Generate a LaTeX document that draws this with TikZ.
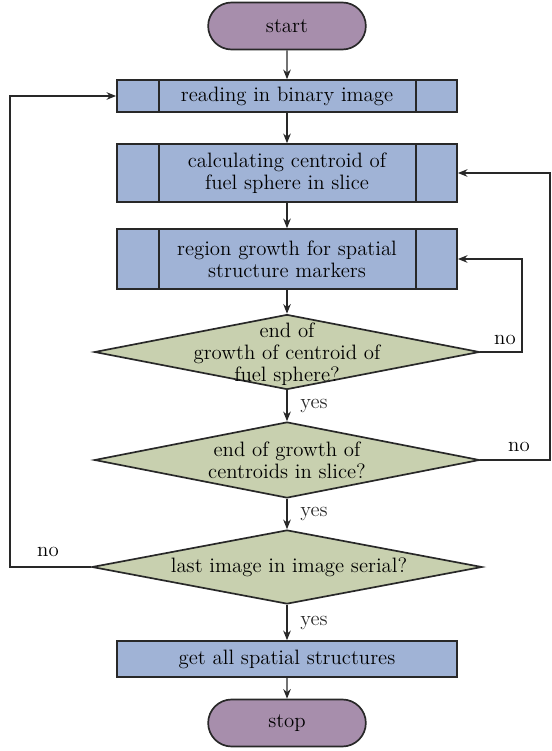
\documentclass[tikz,border=0pt]{standalone}
\usepackage{xcolor}
\usepackage{tikz}
\usetikzlibrary{shapes.geometric, shapes.misc, arrows.meta, calc}
\definecolor{boxblue}{RGB}{160,179,214}
\definecolor{decgreen}{RGB}{200,208,175}
\definecolor{termpurple}{RGB}{167,142,172}
\definecolor{mydark}{RGB}{40,40,40}
\tikzset{
  flowfont/.style={font=\fontsize{14.8pt}{15.8pt}\selectfont},
  terminal/.style={rounded rectangle, draw=mydark, fill=termpurple,
    minimum width=4.175cm, minimum height=1.175cm, flowfont, line width=1.2pt},
  process/.style={rectangle, draw=mydark, fill=boxblue, align=center,
    minimum width=8.5cm, flowfont, line width=1.2pt, inner sep=2pt},
  decision/.style={diamond, draw=mydark, fill=decgreen,
    minimum width=9.625cm, inner sep=0pt, line width=1.2pt},
  dtext/.style={align=center, flowfont, inner sep=0pt},
  arrow/.style={-{Stealth[length=2.4mm, width=1.9mm]}, line width=0.9pt, color=mydark},
  line/.style={line width=0.9pt, color=mydark},
  lbl/.style={flowfont}
}
\begin{document}
\begin{tikzpicture}[x=0.025cm, y=-0.025cm]
  \useasboundingbox (0,0) rectangle (552,751);

  % Main column
  \node[terminal] (start) at (287,26) {start};
  \node[process, minimum height=0.8cm] (read) at (287,96) {reading in binary image};
  \node[process, minimum height=1.45cm] (calc) at (287,173) {calculating centroid of\\fuel sphere in slice};
  \node[process, minimum height=1.5cm] (grow) at (287,259) {region growth for spatial\\structure markers};
  \node[decision, minimum height=1.875cm] (endfuel) at (287,352) {};
  \node[dtext] (endfueltxt) at (287,354) {end of\\growth of centroid of\\fuel sphere?};
  \node[decision, minimum height=1.9cm] (endslice) at (287,460) {};
  \node[dtext] (endslicetxt) at (287,460) {end of growth of\\centroids in slice?};
  \node[decision, minimum width=9.75cm, minimum height=1.85cm] (lastimg) at (287,567) {};
  \node[dtext] (lastimgtxt) at (289,567) {last image in image serial?};
  \node[process, minimum height=0.9cm] (getall) at (287,659) {get all spatial structures};
  \node[terminal] (stop) at (287,723) {stop};

  % Subroutine bars
  \foreach \n in {read,calc,grow}{
    \draw[line] ([xshift=1.075cm]\n.north west) -- ([xshift=1.075cm]\n.south west);
    \draw[line] ([xshift=-1.05cm]\n.north east) -- ([xshift=-1.05cm]\n.south east);
  }

  % Forward flow
  \draw[arrow] (start) -- (read);
  \draw[arrow] (read) -- (calc);
  \draw[arrow] (calc) -- (grow);
  \draw[arrow] (grow) -- (endfuel);
  \draw[arrow] (endfuel) -- node[lbl, right, xshift=0.2cm] {yes} (endslice);
  \draw[arrow] (endslice) -- node[lbl, right, xshift=0.2cm] {yes} (lastimg);
  \draw[arrow] (lastimg) -- node[lbl, right, xshift=0.2cm] {yes} (getall);
  \draw[arrow] (getall) -- (stop);

  % Feedback loops
  \coordinate (fuelback) at (522,352);
  \coordinate (sliceback) at (550,460);
  \coordinate (imgback) at (10,567);
  \draw[arrow] (endfuel.east) -- (fuelback) |- (grow.east);
  \node[lbl] (nofuel) at (505,340) {no};
  \draw[arrow] (endslice.east) -- (sliceback) |- (calc.east);
  \node[lbl] (noslice) at (519,447) {no};
  \draw[arrow] (lastimg.west) -- (imgback) |- (read.west);
  \node[lbl] (noimg) at (48,552) {no};
\end{tikzpicture}
\end{document}
